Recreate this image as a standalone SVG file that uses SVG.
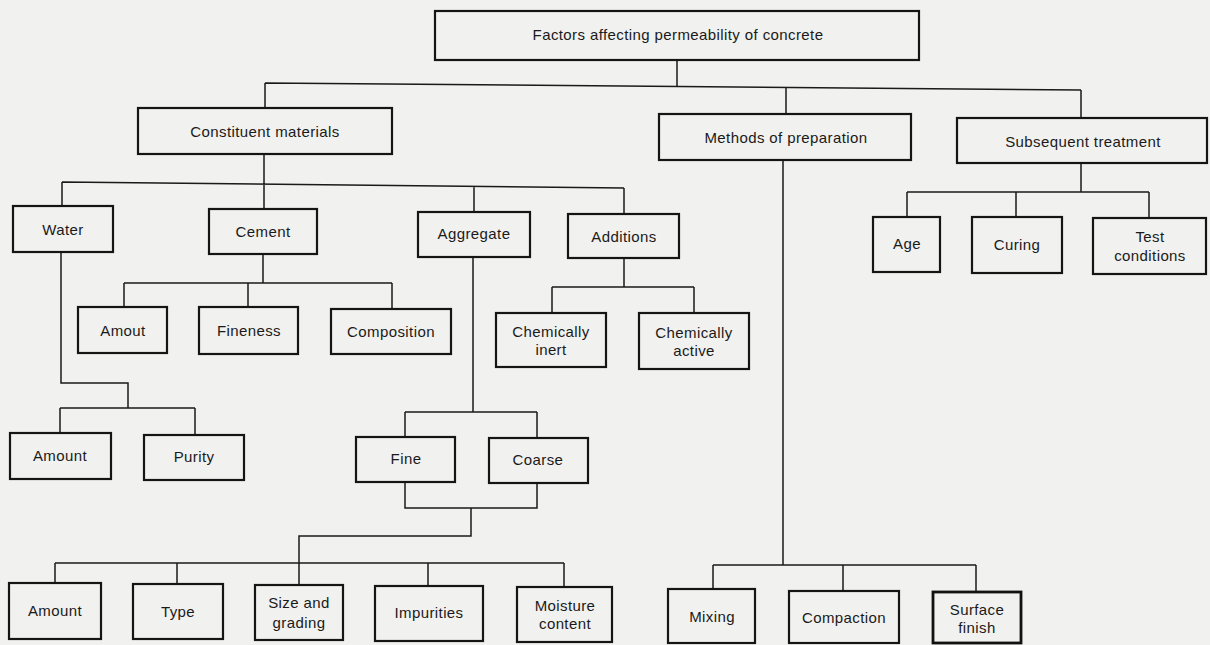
<svg xmlns="http://www.w3.org/2000/svg" width="1210" height="645" viewBox="0 0 1210 645">
<style>
.bx{fill:none;stroke:#151515;stroke-width:2.2}
.bxb{fill:none;stroke:#111;stroke-width:2.8}
.cn{fill:none;stroke:#1a1a1a;stroke-width:1.5}
text{font-family:"Liberation Sans",Arial,sans-serif;font-size:15px;fill:#1a1a1a;text-anchor:middle;letter-spacing:0.4px}
</style>
<rect width="1210" height="645" fill="#f1f1ef"/>
<g id="connectors">
<path class="cn" d="M677 60V87M265 83L1081 90M265 83V108M786 87V114M1081 90V118"/>
<path class="cn" d="M264 154V184M62 182L624 188M62 182V206M264 184V209M474 186V212M624 188V214"/>
<path class="cn" d="M1081 163V192M907 192H1149M907 192V217M1016 192V217M1149 192V218"/>
<path class="cn" d="M263 254V283M124 283H392M124 283V307M248 283V307M392 283V309"/>
<path class="cn" d="M624 258V287M552 287H694M552 287V313M694 287V313"/>
<path class="cn" d="M61 252V383H128V408M60 408H195M60 408V433M195 408V435"/>
<path class="cn" d="M473 257V412M405 412H537M405 412V437M537 412V438"/>
<path class="cn" d="M405 482V508H537V483M471 508V536H299V585M55 563H564M55 563V583M177 563V584M428 563V586M564 563V587"/>
<path class="cn" d="M783 160V565M713 565H976M713 565V589M843 565V591M976 565V592"/>
</g>
<g id="n-root"><rect class="bx" x="435" y="11" width="484" height="49"/><text x="678" y="40">Factors affecting permeability of concrete</text></g>
<g id="n-constituent"><rect class="bx" x="138" y="108" width="254" height="46"/><text x="265" y="137">Constituent materials</text></g>
<g id="n-methods"><rect class="bx" x="659" y="114" width="252" height="46"/><text x="786" y="143">Methods of preparation</text></g>
<g id="n-subsequent"><rect class="bx" x="957" y="118" width="250" height="45"/><text x="1083" y="147">Subsequent treatment</text></g>
<g id="n-water"><rect class="bx" x="13" y="206" width="100" height="46"/><text x="63" y="235">Water</text></g>
<g id="n-cement"><rect class="bx" x="209" y="209" width="108" height="45"/><text x="263" y="237">Cement</text></g>
<g id="n-aggregate"><rect class="bx" x="418" y="212" width="112" height="45"/><text x="474" y="239">Aggregate</text></g>
<g id="n-additions"><rect class="bx" x="568" y="214" width="111" height="44"/><text x="624" y="242">Additions</text></g>
<g id="n-age"><rect class="bx" x="873" y="217" width="67" height="55"/><text x="907" y="249">Age</text></g>
<g id="n-curing"><rect class="bx" x="972" y="217" width="90" height="56"/><text x="1017" y="250">Curing</text></g>
<g id="n-test"><rect class="bx" x="1093" y="218" width="113" height="56"/><text x="1150" y="242">Test</text><text x="1150" y="261">conditions</text></g>
<g id="n-amout"><rect class="bx" x="78" y="307" width="89" height="46"/><text x="123" y="336">Amout</text></g>
<g id="n-fineness"><rect class="bx" x="199" y="307" width="99" height="47"/><text x="249" y="336">Fineness</text></g>
<g id="n-composition"><rect class="bx" x="331" y="309" width="120" height="45"/><text x="391" y="337">Composition</text></g>
<g id="n-inert"><rect class="bx" x="496" y="313" width="110" height="54"/><text x="551" y="337">Chemically</text><text x="551" y="355">inert</text></g>
<g id="n-active"><rect class="bx" x="639" y="313" width="110" height="56"/><text x="694" y="338">Chemically</text><text x="694" y="356">active</text></g>
<g id="n-w-amount"><rect class="bx" x="10" y="433" width="101" height="46"/><text x="60" y="461">Amount</text></g>
<g id="n-purity"><rect class="bx" x="144" y="435" width="100" height="45"/><text x="194" y="462">Purity</text></g>
<g id="n-fine"><rect class="bx" x="356" y="437" width="99" height="45"/><text x="406" y="464">Fine</text></g>
<g id="n-coarse"><rect class="bx" x="489" y="438" width="99" height="45"/><text x="538" y="465">Coarse</text></g>
<g id="n-a-amount"><rect class="bx" x="9" y="583" width="92" height="56"/><text x="55" y="616">Amount</text></g>
<g id="n-type"><rect class="bx" x="133" y="584" width="90" height="55"/><text x="178" y="617">Type</text></g>
<g id="n-size"><rect class="bx" x="255" y="585" width="88" height="55"/><text x="299" y="608">Size and</text><text x="299" y="628">grading</text></g>
<g id="n-impurities"><rect class="bx" x="375" y="586" width="108" height="55"/><text x="429" y="618">Impurities</text></g>
<g id="n-moisture"><rect class="bx" x="517" y="587" width="95" height="55"/><text x="565" y="611">Moisture</text><text x="565" y="629">content</text></g>
<g id="n-mixing"><rect class="bx" x="668" y="589" width="87" height="54"/><text x="712" y="622">Mixing</text></g>
<g id="n-compaction"><rect class="bx" x="789" y="591" width="110" height="52"/><text x="844" y="623">Compaction</text></g>
<g id="n-surface"><rect class="bxb" x="933" y="592" width="88" height="51"/><text x="977" y="615">Surface</text><text x="977" y="633">finish</text></g>
</svg>
